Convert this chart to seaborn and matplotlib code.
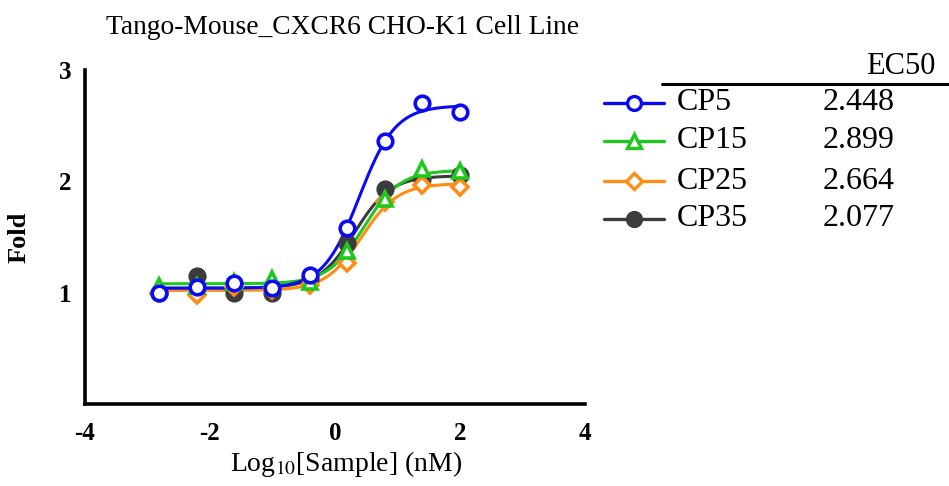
import matplotlib
matplotlib.use("Agg")
import matplotlib.pyplot as plt
from matplotlib.lines import Line2D
import numpy as np
import pandas as pd
import seaborn as sns

# log10 concentrations (4-fold dilution series, nM)
log_conc = [-2.816, -2.214, -1.612, -1.010, -0.408, 0.194, 0.796, 1.398, 2.000]

cp5 = [1.00, 1.05, 1.09, 1.04, 1.155, 1.585, 2.36, 2.70, 2.62]
cp15 = [1.06, 1.06, 1.10, 1.12, 1.10, 1.37, 1.84, 2.11, 2.09]
cp25 = [1.00, 0.98, 1.05, 1.02, 1.07, 1.27, 1.81, 1.97, 1.95]
cp35 = [1.00, 1.15, 1.00, 1.00, 1.12, 1.45, 1.93, 2.02, 2.06]

samples = ["CP5", "CP15", "CP25", "CP35"]
ec50 = [2.448, 2.899, 2.664, 2.077]
# 4PL fit parameters (bottom, top, hill)
bottom = [1.04, 1.08, 1.02, 1.04]
top = [2.68, 2.10, 1.98, 2.05]
hill = [1.5, 1.5, 1.5, 1.5]

colors = ["#0a0af5", "#1ec81e", "#ff8c14", "#3c3c3c"]
markers = ["o", "^", "D", "o"]
filled = [False, False, False, True]

sns.set_style("white")
plt.rcParams["font.family"] = ["Liberation Serif", "DejaVu Serif"]
plt.rcParams["mathtext.fontset"] = "stix"
plt.rcParams["axes.unicode_minus"] = False
plt.rcParams["text.color"] = "black"
plt.rcParams["axes.labelcolor"] = "black"

values = [cp5, cp15, cp25, cp35]
points = pd.DataFrame({
    "x": np.tile(log_conc, len(samples)),
    "y": np.concatenate(values),
    "sample": np.repeat(samples, len(log_conc)),
})

xs = np.linspace(log_conc[0], log_conc[-1], 300)
curve_rows = []
for name, e, b, t, h in zip(samples, ec50, bottom, top, hill):
    ys = b + (t - b) / (1 + 10 ** ((np.log10(e) - xs) * h))
    curve_rows.append(pd.DataFrame({"x": xs, "y": ys, "sample": name}))
curves = pd.concat(curve_rows, ignore_index=True)

W, H = 949, 486
fig = plt.figure(figsize=(W / 100, H / 100), dpi=100)
ax = fig.add_axes([85 / W, 1 - 404 / H, (585 - 85) / W, (404 - 70) / H])

# draw back-to-front so CP5 ends up on top
for i in reversed(range(len(samples))):
    name = samples[i]
    sns.lineplot(data=curves[curves["sample"] == name], x="x", y="y",
                 color=colors[i], lw=2.2, ax=ax, legend=False)
    sub = points[points["sample"] == name]
    ms = 8 if markers[i] == "D" else 10.5
    ax.plot(sub["x"], sub["y"], ls="none", marker=markers[i], ms=ms,
            mec=colors[i], mew=2.6,
            mfc=colors[i] if filled[i] else "white", zorder=3 + (3 - i))

ax.set_xlim(-4, 4)
ax.set_ylim(0, 3)
ax.set_xticks([-4, -2, 0, 2, 4])
ax.set_yticks([1, 2, 3])
for side in ["top", "right"]:
    ax.spines[side].set_visible(False)
for side in ["left", "bottom"]:
    ax.spines[side].set_linewidth(2.6)
    ax.spines[side].set_color("black")
ax.tick_params(axis="both", direction="out", length=7, width=2.6,
               labelsize=18, colors="black")
ax.tick_params(axis="x", pad=6)
ax.tick_params(axis="y", pad=3)
for lab in ax.get_xticklabels() + ax.get_yticklabels():
    lab.set_fontweight("bold")
ax.set_xlabel(r"Log$_{10}$[Sample] (nM)", fontsize=20, labelpad=3)
ax.xaxis.label.set_x(0.522)
ax.set_ylabel("Fold", fontsize=19, fontweight="bold", labelpad=20)
ax.set_title("Tango-Mouse_CXCR6 CHO-K1 Cell Line", fontsize=19.8, pad=26,
             x=0.516)

# legend table with EC50 values
def fx(px):
    return px / W

def fy(py):
    return 1 - py / H

fig.text(fx(935), fy(66), "EC50", fontsize=22, ha="right", va="center")
fig.add_artist(Line2D([fx(662), fx(949)], [fy(84), fy(84)], color="black",
                      lw=2.2, transform=fig.transFigure))
row_y = [103, 141, 181, 219]
for i, name in enumerate(samples):
    y = fy(row_y[i])
    fig.add_artist(Line2D([fx(604), fx(664)], [y, y], color=colors[i], lw=2.4,
                          transform=fig.transFigure))
    ms = 8 if markers[i] == "D" else 10
    fig.add_artist(Line2D([fx(634)], [y], marker=markers[i], ms=ms,
                          mec=colors[i], mew=2.4,
                          mfc=colors[i] if filled[i] else "white",
                          transform=fig.transFigure))
    fig.text(fx(677), y, name, fontsize=23, ha="left", va="center")
    fig.text(fx(823), y, f"{ec50[i]:.3f}", fontsize=23, ha="left", va="center")

fig.savefig("out.png", dpi=100)
